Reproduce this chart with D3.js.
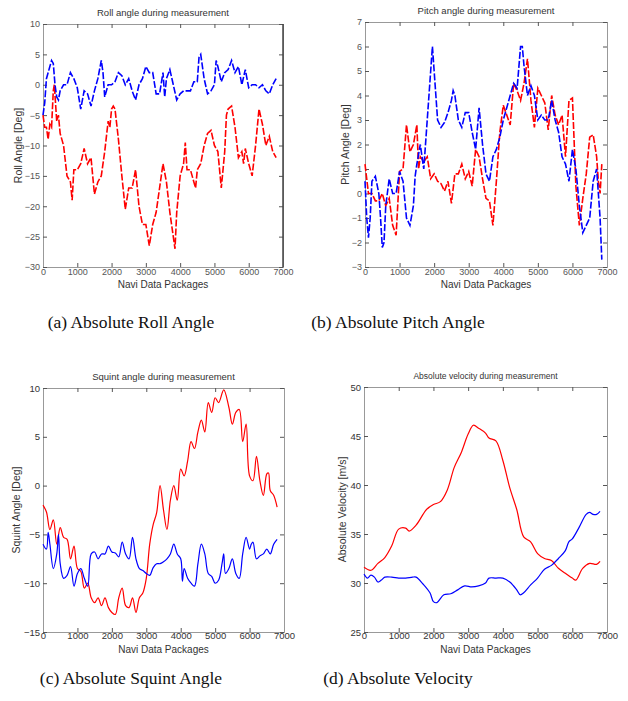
<!DOCTYPE html>
<html>
<head>
<meta charset="utf-8">
<script src="https://cdn.jsdelivr.net/npm/d3@7"></script>
<style>
  body { margin: 0; background: #fff; }
  svg { display: block; }
  .tick text { font-family: "Liberation Sans", Arial, sans-serif; }
</style>
</head>
<body>
<svg id="fig" width="628" height="701"></svg>
<script>
// ---- data (x = navi data package index) ----
var rollBlue = [[0,-5],[50,-3],[100,1],[200,3],[250,4],[300,3.5],[350,0],[400,-2],[450,-2.5],[500,-1],
  [600,0],[700,0],[800,2],[900,1],[1000,-0.5],[1100,-4],[1200,-1],[1300,-1.5],[1400,-3.5],[1500,-1],
  [1600,1],[1700,4],[1750,2],[1800,-2],[1900,0],[2000,0],[2100,0.5],[2200,2],[2300,1.5],[2400,0],
  [2500,1],[2600,-1],[2700,-2.5],[2800,0],[2900,1],[3000,3],[3100,2],[3200,2],[3300,-1.5],[3400,-1.5],
  [3500,2],[3550,-2],[3600,1],[3700,2.5],[3800,0],[3900,-2.5],[4000,-1.5],[4100,-1],[4200,-1],[4300,-1],
  [4400,0.5],[4500,0.5],[4550,4.5],[4600,5],[4700,1],[4800,-1.5],[4900,-1],[5000,0],[5050,4],[5100,3],
  [5200,0.5],[5300,2],[5400,2.5],[5500,4],[5600,2],[5700,3],[5800,0],[5900,2.5],[6000,-0.5],[6100,0],
  [6200,0],[6300,-0.5],[6400,0],[6500,-1],[6600,-1.5],[6700,0],[6800,1]];
var rollRed = [[0,-5],[50,-7],[100,-7],[150,-9],[200,-6.5],[250,-7],[300,-1],[330,0],[400,-6],[450,-5],
  [500,-8],[600,-10],[700,-15],[800,-16],[850,-19],[900,-14],[1000,-14],[1100,-13],[1200,-10.5],[1300,-13],
  [1400,-12],[1500,-18],[1550,-17],[1600,-16],[1700,-15],[1800,-11],[1900,-6],[1950,-7],[2000,-4],[2050,-3.5],
  [2100,-4],[2200,-9],[2300,-15],[2400,-20.5],[2500,-17],[2600,-17],[2700,-14],[2800,-20],[2900,-23],[3000,-23],
  [3100,-26.5],[3200,-23],[3300,-21],[3400,-17],[3500,-13],[3600,-16],[3700,-21],[3800,-25],[3850,-27],[3900,-21],
  [4000,-15],[4100,-13],[4150,-9.5],[4200,-14],[4300,-14],[4400,-16],[4450,-17],[4500,-14],[4600,-13],[4700,-10],
  [4800,-8],[4900,-7.5],[5000,-10],[5100,-11],[5200,-17],[5300,-11],[5350,-5],[5400,-4],[5500,-3.5],[5600,-7],
  [5700,-12],[5800,-11],[5850,-13],[5900,-10.5],[6000,-13],[6100,-15],[6200,-10],[6300,-4],[6400,-6.5],[6500,-10],
  [6600,-8.5],[6700,-11],[6800,-12]];

var pitchBlue = [[0,0.5],[50,-1],[100,-1.8],[150,-1],[200,0.5],[300,0.7],[400,0],[450,-1],[500,-2.2],[550,-2],
  [600,-0.5],[700,0.6],[800,0],[900,0],[1000,0.9],[1100,0.5],[1200,-1],[1300,-1.3],[1400,-0.5],[1450,0.7],
  [1500,1.2],[1600,2],[1700,1],[1800,3],[1900,5],[1950,6],[2000,5],[2100,3],[2200,2.7],[2300,2.9],
  [2400,3.3],[2500,3.8],[2550,4.2],[2600,4],[2700,3],[2800,2.7],[2900,3.3],[3000,3.3],[3100,2.5],[3200,1.8],
  [3300,3.5],[3400,2],[3500,0.8],[3600,0.5],[3700,1.5],[3800,1.8],[3900,2.3],[4000,3],[4100,3.5],[4200,4],
  [4300,4.5],[4400,4.3],[4500,6],[4550,6],[4600,5.2],[4700,4],[4800,4.4],[4900,4],[5000,3],[5100,3.2],
  [5200,3],[5300,3],[5400,3.8],[5500,3],[5600,2.5],[5700,1.5],[5800,1.2],[5900,0.5],[6000,1.8],[6100,1],
  [6200,-0.5],[6300,-1.6],[6400,-1.3],[6500,-1],[6600,0.5],[6700,1],[6750,0],[6800,-1],[6850,-2.7]];
var pitchRed = [[0,1.2],[100,0],[200,0],[300,-0.3],[400,-0.3],[500,0],[600,-0.5],[700,-0.2],[800,-1.3],[900,-1.7],
  [1000,0.9],[1100,1],[1200,2.8],[1300,1.7],[1400,2],[1500,2.8],[1550,1],[1600,1.5],[1700,1.3],[1800,1.5],
  [1900,0.6],[2000,0.8],[2100,0.5],[2200,0.4],[2300,0.1],[2400,0.5],[2500,-0.4],[2600,0.8],[2700,0.8],[2800,1.2],
  [2900,0.6],[3000,0.9],[3100,0.3],[3200,1.8],[3300,1.5],[3400,0.6],[3500,-0.2],[3600,-0.3],[3700,-1.3],[3800,0.5],
  [3900,2.5],[4000,3.6],[4100,3.2],[4200,2.8],[4300,4.5],[4400,4.2],[4500,3.8],[4600,4.5],[4700,5.5],[4800,3.8],
  [4900,2.7],[5000,4.3],[5100,4],[5200,3.7],[5300,2.6],[5400,4],[5500,3.2],[5600,2.8],[5700,3.2],[5800,1.5],
  [5900,3.8],[6000,3.9],[6100,0.3],[6200,-1.3],[6300,-0.2],[6400,0.8],[6500,2.3],[6600,2.4],[6700,1.5],[6750,0.5],
  [6800,0],[6850,1.2]];

var squintRed = [[0,-2],[100,-2.7],[200,-4.5],[300,-3.5],[400,-6],[500,-4.3],[600,-5.3],[700,-5.5],[800,-7.5],[900,-6.2],
  [1000,-8.5],[1100,-8.8],[1200,-10.5],[1300,-10],[1400,-11.5],[1500,-12],[1600,-11.5],[1700,-12.3],[1800,-11.5],[1900,-12.5],
  [2000,-13],[2100,-13.2],[2200,-11.5],[2300,-10.5],[2400,-12.3],[2500,-12.5],[2600,-11.5],[2700,-13],[2800,-11.5],[2900,-11],
  [3000,-9.5],[3100,-6],[3200,-4],[3300,-2.8],[3400,0],[3500,-2.5],[3600,-4.5],[3700,-1.5],[3800,0],[3900,-1.5],
  [4000,1.7],[4100,1],[4200,2.5],[4300,4.5],[4400,3.8],[4500,5.5],[4600,6.7],[4700,5.5],[4800,8.5],[4900,7.5],
  [5000,9],[5100,8.5],[5250,9.8],[5400,8],[5500,6.3],[5600,7.5],[5700,7.8],[5800,4.5],[5900,6.3],[6000,1],
  [6100,0.5],[6200,3],[6300,0.5],[6400,-1],[6500,1.2],[6550,1.3],[6600,-0.5],[6700,-1],[6800,-2.2]];
var squintBlue = [[0,-6],[100,-6.5],[150,-4.8],[200,-6],[300,-8.5],[400,-7],[450,-5],[500,-8],[600,-9.5],[700,-9.2],
  [800,-8.3],[900,-10.3],[1000,-9],[1100,-8.5],[1200,-9.5],[1300,-10.3],[1400,-7],[1500,-6.8],[1600,-7.5],[1700,-7],
  [1800,-7],[1900,-6.2],[2000,-6.8],[2100,-6.9],[2200,-7.3],[2300,-5.8],[2400,-7],[2500,-7.5],[2600,-5.3],[2700,-7.5],
  [2800,-8.5],[2900,-8.7],[3000,-9],[3100,-9.2],[3200,-8.4],[3300,-8],[3400,-8],[3500,-7.8],[3600,-7.5],[3700,-7],
  [3800,-6],[3900,-7],[4000,-7.5],[4050,-9.8],[4100,-8.5],[4200,-9.5],[4300,-10],[4400,-10.3],[4500,-8],[4600,-6],
  [4700,-7],[4800,-9],[4900,-9.3],[5000,-10],[5100,-9.7],[5200,-8],[5250,-7],[5300,-9],[5400,-8.5],[5500,-7.5],
  [5600,-9],[5700,-9.5],[5800,-7],[5900,-5.3],[6000,-6.5],[6050,-6],[6100,-5.8],[6200,-7.5],[6300,-7.2],[6400,-7],
  [6500,-6.5],[6600,-7],[6700,-6],[6800,-5.5]];

var velRed = [[0,31.6],[200,31.3],[400,32],[600,32.6],[800,33.8],[1000,35.5],[1200,35.6],[1300,35.3],[1500,35.9],[1700,37],
  [1800,37.5],[2000,38],[2200,38.3],[2400,39.5],[2600,41.8],[2800,43.3],[3000,45.2],[3150,46.1],[3300,45.8],[3500,45.3],
  [3600,44.8],[3800,44.5],[4000,42.5],[4200,39.7],[4400,37.5],[4600,34.7],[4800,34.2],[5000,33],[5200,32.5],[5400,32.3],
  [5600,31.5],[5800,31],[6000,30.5],[6100,30.3],[6300,31.5],[6500,32],[6700,31.9],[6800,32.2]];
var velBlue = [[0,30.9],[100,30.5],[200,30.8],[300,30.6],[400,30.1],[500,30.3],[600,30.6],[800,30.6],[1000,30.5],[1200,30.5],
  [1400,30.6],[1500,30.6],[1700,29.9],[1900,29],[2000,28.1],[2100,28],[2300,28.8],[2500,28.9],[2700,29.3],[2900,29.7],
  [3100,29.6],[3300,29.7],[3500,30],[3600,30.5],[3800,30.5],[4000,30.5],[4200,30.1],[4400,29.3],[4500,28.8],[4600,29],
  [4800,29.8],[5000,30.5],[5200,31.4],[5400,31.8],[5600,32.5],[5800,33.3],[5900,34.2],[6000,34.5],[6200,35.7],[6400,37],
  [6500,37.2],[6600,37],[6700,37],[6800,37.3]];

var xTicks = [0, 1000, 2000, 3000, 4000, 5000, 6000, 7000];
var rollTicks = [-30, -25, -20, -15, -10, -5, 0, 5, 10];
var pitchTicks = [-3, -2, -1, 0, 1, 2, 3, 4, 5, 6, 7];
var squintTicks = [-15, -10, -5, 0, 5, 10];
var velTicks = [25, 30, 35, 40, 45, 50];

var svg = d3.select("#fig");

function panel(o) {
    var x = d3.scaleLinear().domain([0, 7000]).range([o.left, o.right]);
    var y = d3.scaleLinear().domain(o.ydom).range([o.bottom, o.top]);
    var g = svg.append("g");
    var fs = o.fs || 10;

    // inward ticks on every side, matlab style
    g.append("g").attr("transform", "translate(0," + o.bottom + ")")
        .call(d3.axisBottom(x).tickValues(xTicks).tickSize(-4).tickPadding(o.xpad).tickFormat(d3.format("d")));
    g.append("g").attr("transform", "translate(0," + o.top + ")")
        .call(d3.axisTop(x).tickValues(xTicks).tickSize(-4).tickFormat(""));
    g.append("g").attr("transform", "translate(" + o.left + ",0)")
        .call(d3.axisLeft(y).tickValues(o.yticks).tickSize(-4).tickPadding(3));
    g.append("g").attr("transform", "translate(" + o.right + ",0)")
        .call(d3.axisRight(y).tickValues(o.yticks).tickSize(-4).tickFormat(""));
    g.selectAll(".domain").attr("stroke", "#999");
    g.selectAll(".tick line").attr("stroke", "#555");
    g.selectAll(".tick text").attr("fill", o.tc || "#333").style("font-size", fs + "px");
    if (o.darkRight) {
        g.append("line").attr("x1", o.right).attr("x2", o.right)
            .attr("y1", o.top).attr("y2", o.bottom).attr("stroke", "#444").attr("stroke-width", 1.5);
    }

    var line = d3.line().x(function (d) { return x(d[0]); }).y(function (d) { return y(d[1]); })
        .curve(o.smooth ? d3.curveCatmullRom.alpha(0.5) : d3.curveLinear);

    o.series.forEach(function (s) {
        g.append("path").datum(s.data)
            .attr("fill", "none")
            .attr("stroke", s.color)
            .attr("stroke-width", o.lw)
            .attr("stroke-dasharray", o.dash || null)
            .attr("d", line);
    });

    var cx = (o.left + o.right) / 2;
    g.append("text").attr("x", cx).attr("y", o.top - 8)
        .attr("text-anchor", "middle").attr("fill", "#333")
        .style("font-family", "Liberation Sans, Arial, sans-serif").style("font-size", (o.tfs || 10) + "px")
        .text(o.title);
    g.append("text").attr("x", cx).attr("y", o.bottom + o.xly)
        .attr("text-anchor", "middle").attr("fill", "#333")
        .style("font-family", "Liberation Sans, Arial, sans-serif").style("font-size", "10px")
        .text("Navi Data Packages");
    g.append("text")
        .attr("transform", "translate(" + o.ylx + "," + ((o.top + o.bottom) / 2) + ") rotate(-90)")
        .attr("text-anchor", "middle").attr("fill", "#333")
        .style("font-family", "Liberation Sans, Arial, sans-serif").style("font-size", "10.5px")
        .text(o.ylabel);
    svg.append("text").attr("x", o.capx).attr("y", o.capy)
        .attr("text-anchor", "middle").attr("fill", "#111")
        .style("font-family", "Liberation Serif, Times New Roman, serif").style("font-size", "17.5px")
        .text(o.caption);
}

panel({left: 43, right: 283, top: 24, bottom: 267, ydom: [-30, 10], yticks: rollTicks,
    title: "Roll angle during measurement", ylabel: "Roll Angle [Deg]", ylx: 22,
    series: [{data: rollRed, color: "#f00"}, {data: rollBlue, color: "#00f"}],
    lw: 1.6, dash: "7,2", fs: 9, tc: "#555", darkRight: true, tfs: 9.5, xpad: 2, xly: 21,
    caption: "(a) Absolute Roll Angle", capx: 131, capy: 328});

panel({left: 365, right: 607, top: 22, bottom: 267, ydom: [-3, 7], yticks: pitchTicks,
    title: "Pitch angle during measurement", ylabel: "Pitch Angle [Deg]", ylx: 349,
    series: [{data: pitchRed, color: "#f00"}, {data: pitchBlue, color: "#00f"}],
    lw: 1.6, dash: "7,2", fs: 9, tc: "#555", tfs: 9.5, xpad: 2, xly: 21,
    caption: "(b) Absolute Pitch Angle", capx: 398, capy: 328});

panel({left: 43, right: 284, top: 388, bottom: 632, ydom: [-15, 10], yticks: squintTicks,
    title: "Squint angle during measurement", ylabel: "Squint Angle [Deg]", ylx: 20,
    series: [{data: squintRed, color: "#f00"}, {data: squintBlue, color: "#00f"}],
    lw: 1.2, smooth: true, fs: 9.5, tfs: 9.5, xpad: 0, xly: 21,
    caption: "(c) Absolute Squint Angle", capx: 131, capy: 684});

panel({left: 364, right: 607, top: 387, bottom: 632, ydom: [25, 50], yticks: velTicks,
    title: "Absolute velocity during measurement", ylabel: "Absolute Velocity [m/s]", ylx: 346,
    series: [{data: velRed, color: "#f00"}, {data: velBlue, color: "#00f"}],
    lw: 1.2, smooth: true, fs: 9.5, tfs: 8.5, xpad: 0, xly: 21,
    caption: "(d) Absolute Velocity", capx: 398, capy: 684});
</script>
</body>
</html>
